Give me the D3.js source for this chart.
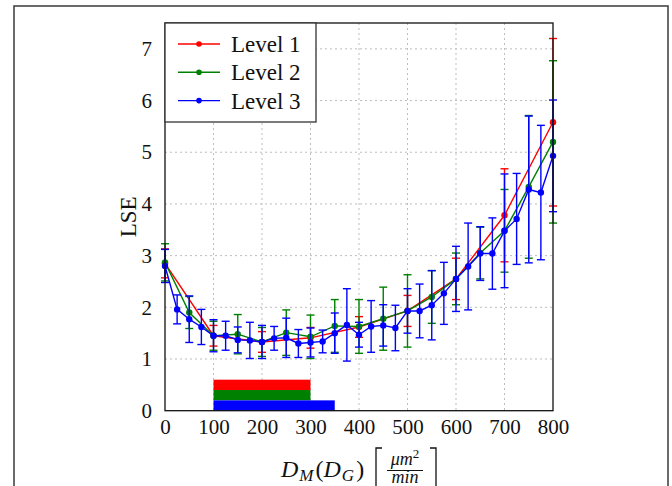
<!DOCTYPE html>
<html>
<head>
<meta charset="utf-8">
<script src="https://cdn.jsdelivr.net/npm/d3@7/dist/d3.min.js"></script>
<style>
  body { margin: 0; background: #fff; }
  svg text { font-family: "Liberation Serif", "DejaVu Serif", serif; }
</style>
</head>
<body>
<div id="chart"></div>
<script>
// Level 1 (red), sampled every 100
var level1X = [0, 100, 200, 300, 400, 500, 600, 700, 800];
var level1Y = [2.85, 1.45, 1.33, 1.41, 1.62, 1.93, 2.55, 3.78, 5.58];
var level1Err = [0.28, 0.2, 0.2, 0.2, 0.2, 0.3, 0.4, 0.9, 1.62];

// Level 2 (green), sampled every 50
var level2X = [0, 50, 100, 150, 200, 250, 300, 350, 400, 450, 500, 550, 600, 650, 700, 750, 800];
var level2Y = [2.87, 1.90, 1.45, 1.48, 1.33, 1.51, 1.43, 1.64, 1.63, 1.78, 1.93, 2.20, 2.55, 3.05, 3.48, 4.33, 5.20];
var level2Err = [0.36, 0.31, 0.28, 0.38, 0.28, 0.44, 0.42, 0.51, 0.52, 0.61, 0.70, 0.51, 0.5, 0.5, 0.8, 1.38, 1.57];

// Level 3 (blue), sampled every 25
var level3X = [0, 25, 50, 75, 100, 125, 150, 175, 200, 225, 250, 275, 300, 325, 350, 375, 400,
               425, 450, 475, 500, 525, 550, 575, 600, 625, 650, 675, 700, 725, 750, 775, 800];
var level3Y = [2.80, 1.96, 1.77, 1.62, 1.45, 1.45, 1.37, 1.36, 1.33, 1.40, 1.41, 1.30, 1.32, 1.34, 1.50, 1.66, 1.47,
               1.63, 1.65, 1.60, 1.93, 1.93, 2.04, 2.27, 2.55, 2.79, 3.04, 3.04, 3.48, 3.71, 4.28, 4.22, 4.93];
var level3Err = [0.32, 0.28, 0.45, 0.34, 0.31, 0.28, 0.25, 0.35, 0.32, 0.23, 0.38, 0.27, 0.28, 0.22, 0.39, 0.70, 0.24,
                 0.50, 0.40, 0.44, 0.43, 0.52, 0.67, 0.60, 0.63, 0.84, 0.52, 0.69, 1.10, 0.88, 1.42, 1.30, 1.08];

// ranges shown as bars at the bottom
var rangeStart = [100, 100, 100];
var rangeEnd = [300, 300, 350];

var levelNames = ["Level 1", "Level 2", "Level 3"];
var levelColors = ["#ff0000", "#008000", "#0000ff"];
var xTicks = [0, 100, 200, 300, 400, 500, 600, 700, 800];
var yTicks = [0, 1, 2, 3, 4, 5, 6, 7];

var svg = d3.select("#chart").append("svg")
    .attr("width", 672)
    .attr("height", 486);

// outer frame
svg.append("rect")
    .attr("x", 14).attr("y", 6)
    .attr("width", 654).attr("height", 520)
    .attr("fill", "none")
    .attr("stroke", "#3a3a3a")
    .attr("stroke-width", 1.5);

var pLeft = 165, pRight = 553, pTop = 23, pBottom = 410.7;
var x = d3.scaleLinear().domain([0, 800]).range([pLeft, pRight]);
var y = d3.scaleLinear().domain([0, 7.5]).range([pBottom, pTop]);

// grid
var grid = svg.append("g")
    .attr("stroke", "#bdbdbd")
    .attr("stroke-width", 1)
    .attr("stroke-dasharray", "2,3");
grid.selectAll("line.gx")
    .data(xTicks.slice(1, -1))
    .enter().append("line")
    .attr("class", "gx")
    .attr("x1", (d) => x(d)).attr("x2", (d) => x(d))
    .attr("y1", pTop).attr("y2", pBottom);
grid.selectAll("line.gy")
    .data(yTicks.slice(1))
    .enter().append("line")
    .attr("class", "gy")
    .attr("x1", pLeft).attr("x2", pRight)
    .attr("y1", (d) => y(d)).attr("y2", (d) => y(d));

// range bars (stacked 0.2 high each, level 1 on top)
svg.selectAll("rect.range")
    .data([0, 1, 2])
    .enter().append("rect")
    .attr("class", "range")
    .attr("x", (i) => x(rangeStart[i]))
    .attr("width", (i) => x(rangeEnd[i]) - x(rangeStart[i]))
    .attr("y", (i) => y(0.6 - 0.2 * i))
    .attr("height", (i) => y(0.4 - 0.2 * i) - y(0.6 - 0.2 * i))
    .attr("fill", (i) => levelColors[i]);

var series = [
    {xs: level1X, ys: level1Y, err: level1Err},
    {xs: level2X, ys: level2Y, err: level2Err},
    {xs: level3X, ys: level3Y, err: level3Err}
];

var line = d3.line()
    .x((d) => x(d[0]))
    .y((d) => y(d[1]));

series.forEach(function(s, i) {
    var pts = s.xs.map((v, k) => [v, s.ys[k], s.err[k]]);
    var col = levelColors[i];
    var g = svg.append("g");

    var eb = g.selectAll("g.err")
        .data(pts)
        .enter().append("g")
        .attr("class", "err")
        .attr("stroke", col)
        .attr("stroke-width", 1.4);
    eb.append("line")
        .attr("x1", (d) => x(d[0])).attr("x2", (d) => x(d[0]))
        .attr("y1", (d) => y(d[1] - d[2])).attr("y2", (d) => y(d[1] + d[2]));
    eb.append("line")
        .attr("x1", (d) => x(d[0]) - 4).attr("x2", (d) => x(d[0]) + 4)
        .attr("y1", (d) => y(d[1] + d[2])).attr("y2", (d) => y(d[1] + d[2]));
    eb.append("line")
        .attr("x1", (d) => x(d[0]) - 4).attr("x2", (d) => x(d[0]) + 4)
        .attr("y1", (d) => y(d[1] - d[2])).attr("y2", (d) => y(d[1] - d[2]));

    g.append("path")
        .datum(pts)
        .attr("d", line)
        .attr("fill", "none")
        .attr("stroke", col)
        .attr("stroke-width", 1.4);

    g.selectAll("circle")
        .data(pts)
        .enter().append("circle")
        .attr("cx", (d) => x(d[0]))
        .attr("cy", (d) => y(d[1]))
        .attr("r", 3.2)
        .attr("fill", col);
});

// axis box
svg.append("rect")
    .attr("x", pLeft).attr("y", pTop)
    .attr("width", pRight - pLeft).attr("height", pBottom - pTop)
    .attr("fill", "none")
    .attr("stroke", "#111")
    .attr("stroke-width", 1.3);

// tick labels
var xAxis = svg.append("g")
    .attr("transform", "translate(0," + pBottom + ")")
    .call(d3.axisBottom(x).tickValues(xTicks).tickSize(0).tickPadding(8));
xAxis.select(".domain").remove();
xAxis.selectAll("text")
    .attr("font-family", "Liberation Serif")
    .attr("font-size", 21)
    .attr("fill", "#111");

var yAxis = svg.append("g")
    .attr("transform", "translate(" + pLeft + ",0)")
    .call(d3.axisLeft(y).tickValues(yTicks).tickSize(0).tickPadding(13));
yAxis.select(".domain").remove();
yAxis.selectAll("text")
    .attr("font-family", "Liberation Serif")
    .attr("font-size", 21)
    .attr("fill", "#111");

// y label
svg.append("text")
    .attr("transform", "translate(136," + ((pTop + pBottom) / 2) + ") rotate(-90)")
    .attr("text-anchor", "middle")
    .attr("font-size", 23)
    .attr("fill", "#111")
    .text("LSE");

// x label: D_M(D_G) [um^2/min]
var xl = svg.append("text")
    .attr("x", 281).attr("y", 477)
    .attr("font-size", 24)
    .attr("fill", "#111");
xl.append("tspan").attr("font-style", "italic").text("D");
xl.append("tspan").attr("font-style", "italic").attr("font-size", 17).attr("dy", 4).attr("dx", 1).text("M");
xl.append("tspan").attr("dy", -4).attr("dx", 2).text("(");
xl.append("tspan").attr("font-style", "italic").text("D");
xl.append("tspan").attr("font-style", "italic").attr("font-size", 17).attr("dy", 4).attr("dx", 1).text("G");
xl.append("tspan").attr("dy", -4).attr("dx", 2).text(")");

var bx = 376;
svg.append("path")
    .attr("d", "M" + (bx + 6) + ",448 H" + bx + " V492 H" + (bx + 6))
    .attr("fill", "none").attr("stroke", "#111").attr("stroke-width", 1.3);
var fx = 405;
var num = svg.append("text")
    .attr("x", fx).attr("y", 465)
    .attr("text-anchor", "middle")
    .attr("font-size", 18)
    .attr("font-style", "italic")
    .attr("fill", "#111");
num.append("tspan").text("\u03bcm");
num.append("tspan").attr("font-size", 13).attr("font-style", "normal").attr("dy", -7).text("2");
svg.append("line")
    .attr("x1", fx - 18).attr("x2", fx + 18)
    .attr("y1", 470.5).attr("y2", 470.5)
    .attr("stroke", "#111").attr("stroke-width", 1.2);
svg.append("text")
    .attr("x", fx).attr("y", 483)
    .attr("text-anchor", "middle")
    .attr("font-size", 18)
    .attr("font-style", "italic")
    .attr("fill", "#111")
    .text("min");
svg.append("path")
    .attr("d", "M" + (fx + 25) + ",448 H" + (fx + 31) + " V492 H" + (fx + 25))
    .attr("fill", "none").attr("stroke", "#111").attr("stroke-width", 1.3);

// legend
var lg = svg.append("g");
lg.append("rect")
    .attr("x", pLeft).attr("y", pTop)
    .attr("width", 151).attr("height", 99)
    .attr("fill", "#fff")
    .attr("stroke", "#333")
    .attr("stroke-width", 1.3);
var rows = lg.selectAll("g.row")
    .data(levelNames)
    .enter().append("g")
    .attr("class", "row")
    .attr("transform", (d, i) => "translate(0," + (44 + i * 28.3) + ")");
rows.append("line")
    .attr("x1", 178).attr("x2", 220)
    .attr("stroke", (d, i) => levelColors[i])
    .attr("stroke-width", 1.4);
rows.append("circle")
    .attr("cx", 199).attr("r", 2.8)
    .attr("fill", (d, i) => levelColors[i]);
rows.append("text")
    .attr("x", 231).attr("y", 8)
    .attr("font-size", 23)
    .attr("fill", "#111")
    .text((d) => d);
</script>
</body>
</html>
